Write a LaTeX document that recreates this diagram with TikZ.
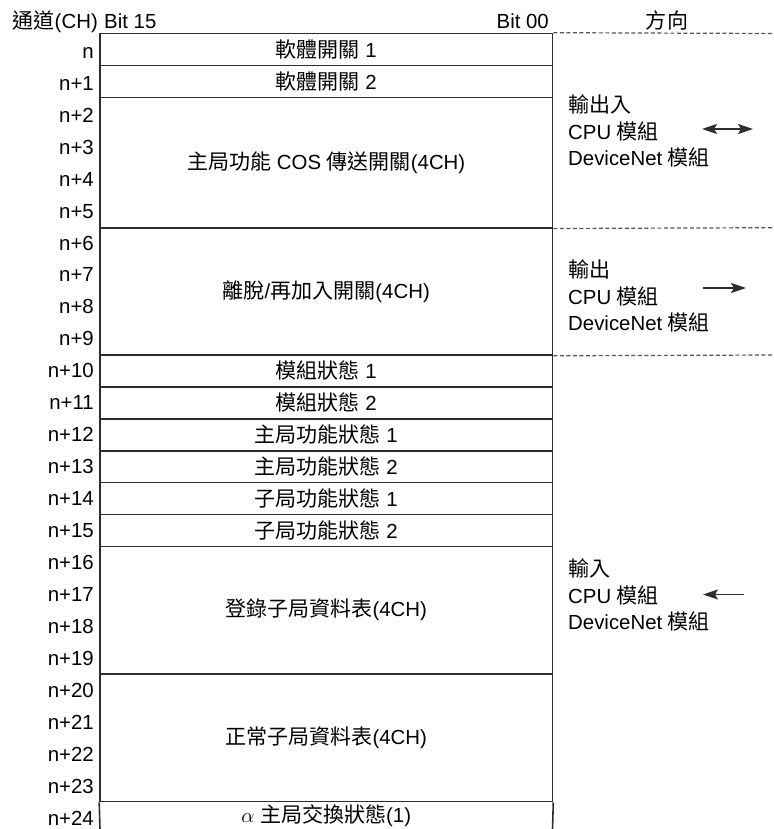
\documentclass[tikz,border=0pt]{standalone}
\usepackage{fontspec}
\setmainfont{Liberation Sans}
\newfontfamily\cjk[Scale=1.03]{Noto Sans CJK TC}
\usetikzlibrary{arrows.meta,positioning}
\definecolor{tablegray}{RGB}{45,45,45}
\definecolor{dashgray}{RGB}{85,85,85}
\newcommand{\zh}[1]{{\cjk #1}}

\begin{document}
\begin{tikzpicture}[x=1pt,y=-1pt,>={Stealth[length=15pt,width=10pt,inset=3pt]},
  every node/.style={font=\fontsize{20.4}{26.5}\selectfont,inner sep=0pt},
  cell/.style={draw=tablegray,line width=1.6pt,minimum width=452.5pt},
  chlabel/.style={anchor=east,text height=14.6pt,text depth=0pt},
  sepline/.style={draw=dashgray,line width=1.2pt,dash pattern=on 4pt off 2.5pt},
  dirtext/.style={anchor=west,align=left},
  dirarrow/.style={draw=tablegray,line width=1.8pt}]
  \useasboundingbox (0,0) rectangle (773,829);

  % header
  \node[anchor=base east] (chhead) at (98,28.5) {\zh{通道}(CH)};
  \node[anchor=base west] (bithi) at (104,28.5) {Bit 15};
  \node[anchor=base east] (bitlo) at (549,28.5) {Bit 00};
  \node[anchor=base] (dirhead) at (667,28.5) {\zh{方向}};

  % channel words
  \foreach \ya/\yb/\t [count=\k from 0] in {
      33.5/65.7/{\zh{軟體開關} 1},
      65.7/97.7/{\zh{軟體開關} 2},
      97.7/227.7/{\zh{主局功能} COS \zh{傳送開關}(4CH)},
      227.7/355/{\zh{離脫}/\zh{再加入開關}(4CH)},
      355/386.9/{\zh{模組狀態} 1},
      386.9/418.8/{\zh{模組狀態} 2},
      418.8/450.7/{\zh{主局功能狀態} 1},
      450.7/482.6/{\zh{主局功能狀態} 2},
      482.6/514.5/{\zh{子局功能狀態} 1},
      514.5/546.4/{\zh{子局功能狀態} 2},
      546.4/674/{\zh{登錄子局資料表}(4CH)},
      674/801.6/{\zh{正常子局資料表}(4CH)}}
    \node[cell,minimum height={\yb-\ya}] (blk\k) at (326.25,{(\ya+\yb)/2}) {\t};
  \node (blk12) at (326.25,816) {$\alpha$ \zh{主局交換狀態}(1)};
  \draw[tablegray,line width=1.6pt] (blk11.south west) -- (100,829)
    (blk11.south east) -- (552.5,829);

  % channel numbers
  \node[chlabel] (ch0) at (94,{35+0.5*32}) {n};
  \foreach \i in {1,...,24}
    \node[chlabel] (ch\i) at (94,{35+(\i+0.5)*32-0.05*\i}) {n+\i};

  % direction
  \draw[sepline] (blk0.north east) -- (773,33.5);
  \draw[sepline] (blk2.south east) -- (773,227.7);
  \draw[sepline] (blk3.south east) -- (773,355);
  \node[dirtext] (dir1) at (568,131) {\zh{輸出入}\\CPU \zh{模組}\\DeviceNet \zh{模組}};
  \node[dirtext] (dir2) at (568,296) {\zh{輸出}\\CPU \zh{模組}\\DeviceNet \zh{模組}};
  \node[dirtext] (dir3) at (568,595) {\zh{輸入}\\CPU \zh{模組}\\DeviceNet \zh{模組}};
  \coordinate (io1) at (702,129);
  \coordinate (io2) at (753,129);
  \coordinate (out1) at (703,288);
  \coordinate (out2) at (746,288);
  \coordinate (in1) at (744,594.5);
  \coordinate (in2) at (703,594.5);
  \draw[dirarrow,<->] (io1) -- (io2);
  \draw[dirarrow,->] (out1) -- (out2);
  \draw[dirarrow,->] (in1) -- (in2);
\end{tikzpicture}
\end{document}
